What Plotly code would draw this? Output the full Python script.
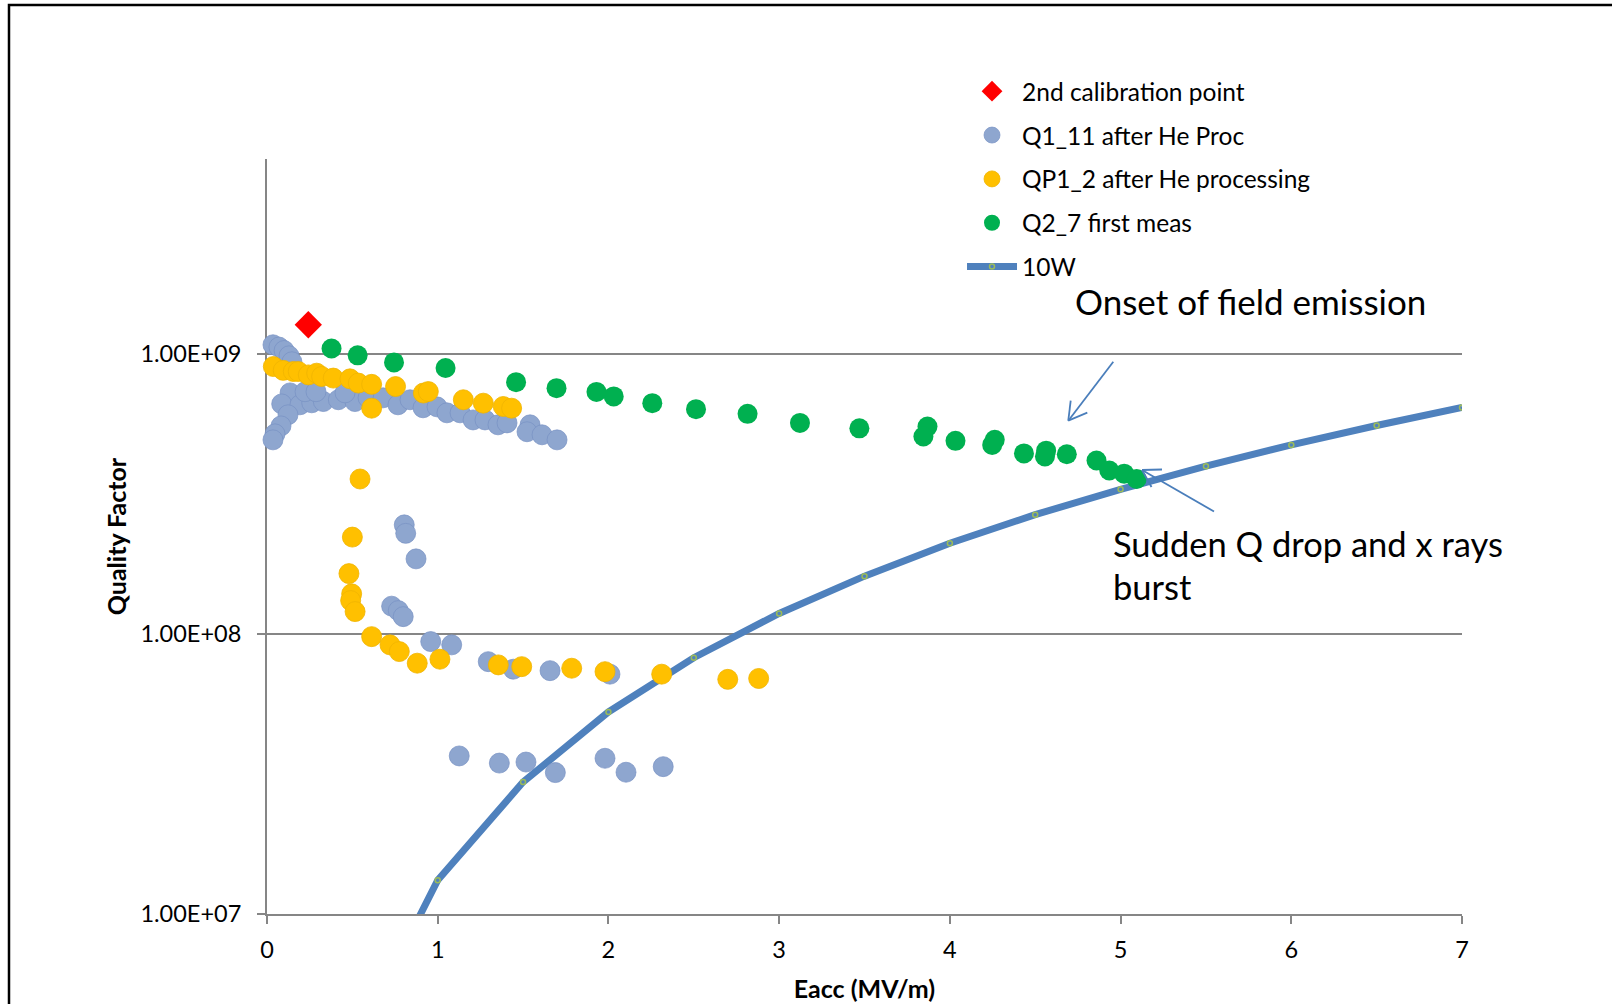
import plotly.graph_objects as go

# ---------------- data ----------------
cal_E = [0.242]
cal_Q = [1.273e9]

q111_E = [0.035, 0.070, 0.100, 0.129, 0.146,
          0.135, 0.086, 0.193, 0.262, 0.330, 0.418, 0.515, 0.592, 0.680, 0.767,
          0.223, 0.287, 0.457,
          0.838, 0.914, 0.996, 1.054, 1.131, 1.207, 1.277, 1.353, 1.406, 1.541,
          1.523, 1.611, 1.699,
          0.123, 0.082, 0.047, 0.035,
          0.804, 0.8125, 0.873, 0.730, 0.769, 0.798, 0.959, 1.082, 1.296, 1.443,
          1.658, 2.009,
          1.126, 1.361, 1.517, 1.689, 1.980, 2.103, 2.321]
q111_Q = [1.08e9, 1.06e9, 1.03e9, 9.86e8, 9.39e8,
          7.27e8, 6.64e8, 6.59e8, 6.70e8, 6.77e8, 6.87e8, 6.77e8, 6.98e8, 6.98e8, 6.59e8,
          7.34e8, 7.34e8, 7.27e8,
          6.87e8, 6.43e8, 6.48e8, 6.17e8, 6.17e8, 5.82e8, 5.82e8, 5.59e8, 5.68e8, 5.59e8,
          5.28e8, 5.15e8, 4.94e8,
          6.07e8, 5.54e8, 5.19e8, 4.94e8,
          2.455e8, 2.29e8, 1.856e8, 1.258e8, 1.213e8, 1.154e8, 9.4e7, 9.15e7, 7.97e7, 7.49e7,
          7.40e7, 7.19e7,
          3.67e7, 3.46e7, 3.49e7, 3.20e7, 3.60e7, 3.21e7, 3.36e7]

qp12_E = [0.037, 0.095, 0.154, 0.183, 0.242, 0.291, 0.320, 0.388, 0.486, 0.535,
          0.613, 0.613, 0.753, 0.916, 0.945, 1.150, 1.267, 1.384, 1.433,
          0.545, 0.500, 0.480, 0.496, 0.490, 0.516, 0.613, 0.7205, 0.775, 0.880,
          1.013, 1.355, 1.492, 1.785, 1.980, 2.312, 2.699, 2.880]
qp12_Q = [9.03e8, 8.75e8, 8.67e8, 8.67e8, 8.43e8, 8.55e8, 8.32e8, 8.21e8, 8.16e8, 7.88e8,
          7.80e8, 6.41e8, 7.66e8, 7.26e8, 7.35e8, 6.87e8, 6.68e8, 6.50e8, 6.41e8,
          3.58e8, 2.22e8, 1.644e8, 1.392e8, 1.317e8, 1.203e8, 9.79e7, 9.15e7, 8.66e7, 7.87e7,
          8.13e7, 7.76e7, 7.65e7, 7.55e7, 7.34e7, 7.19e7, 6.89e7, 6.94e7]

q27_E = [0.378, 0.531, 0.744, 1.046, 1.459, 1.696, 1.930, 2.031, 2.257, 2.513,
         2.815, 3.122, 3.470, 3.869, 3.845, 4.033, 4.263, 4.248, 4.434, 4.564,
         4.557, 4.685, 4.859, 4.934, 5.021, 5.094]
q27_Q = [1.047e9, 9.9e8, 9.34e8, 8.92e8, 7.94e8, 7.56e8, 7.33e8, 7.06e8, 6.68e8, 6.36e8,
         6.12e8, 5.68e8, 5.43e8, 5.51e8, 5.08e8, 4.90e8, 4.94e8, 4.74e8, 4.42e8, 4.52e8,
         4.31e8, 4.39e8, 4.17e8, 3.84e8, 3.74e8, 3.58e8]

w10_E = [0.5, 1, 1.5, 2, 2.5, 3, 3.5, 4, 4.5, 5, 5.5, 6, 6.5, 7]
w10_Q = [3.3e6, 1.32e7, 2.96e7, 5.27e7, 8.23e7, 1.185e8, 1.61e8, 2.11e8, 2.67e8,
         3.29e8, 3.98e8, 4.74e8, 5.56e8, 6.45e8]

y_tickvals = [1e7, 1e8, 1e9]
y_ticktext = ["1.00E+07", "1.00E+08", "1.00E+09"]
x_tickvals = [0, 1, 2, 3, 4, 5, 6, 7]

# ---------------- figure ----------------
fig = go.Figure()

fig.add_trace(go.Scatter(
    x=w10_E, y=w10_Q, name="10W", mode="lines+markers",
    line=dict(color="#4F81BD", width=7),
    marker=dict(symbol="circle-open", size=5, color="#9BBB59", line=dict(width=1.5, color="#9BBB59")),
    legendgroup="g5", legendrank=5))

fig.add_trace(go.Scatter(
    x=cal_E, y=cal_Q, name="2nd calibration point", mode="markers",
    marker=dict(symbol="diamond", size=21, color="#FF0000"),
    cliponaxis=False, legendgroup="g1", legendrank=1))

fig.add_trace(go.Scatter(
    x=q111_E, y=q111_Q, name="Q1_11 after He Proc", mode="markers",
    marker=dict(size=20, color="#8EA6CF", line=dict(width=1, color="rgba(120,145,195,0.7)")),
    cliponaxis=False, legendgroup="g2", legendrank=2))

fig.add_trace(go.Scatter(
    x=qp12_E, y=qp12_Q, name="QP1_2 after He processing", mode="markers",
    marker=dict(size=20, color="#FFC000", line=dict(width=1, color="rgba(240,180,0,0.8)")),
    cliponaxis=False, legendgroup="g3", legendrank=3))

fig.add_trace(go.Scatter(
    x=q27_E, y=q27_Q, name="Q2_7 first meas", mode="markers",
    marker=dict(size=20, color="#00B050"),
    cliponaxis=False, legendgroup="g4", legendrank=4))

axis_gray = "#868686"

fig.update_xaxes(
    range=[0, 7], tickvals=x_tickvals, showgrid=False, zeroline=False,
    showline=True, linecolor=axis_gray, linewidth=2,
    ticks="outside", ticklen=8, tickcolor=axis_gray, tickwidth=1.5,
    tickfont=dict(size=23.5, color="black"), ticklabelstandoff=6,
    title=dict(text="<b>Eacc (MV/m)</b>", font=dict(size=25, color="black"), standoff=18),
    layer="below traces", automargin=False)

fig.update_yaxes(
    type="log", range=[7, 9.697], tickvals=y_tickvals, ticktext=y_ticktext,
    showgrid=True, gridcolor=axis_gray, gridwidth=2, zeroline=False,
    showline=True, linecolor=axis_gray, linewidth=2,
    ticks="outside", ticklen=8, tickcolor=axis_gray, tickwidth=1.5,
    tickfont=dict(size=23.5, color="black"), ticklabelstandoff=11,
    title=dict(text="<b>Quality Factor</b>", font=dict(size=25, color="black"), standoff=7),
    layer="below traces", automargin=False)

annotations = [
    dict(text="Onset of field emission", x=0.8233, y=0.8125, xref="paper", yref="paper",
         xanchor="center", yanchor="middle", showarrow=False, font=dict(size=35, color="black")),
    dict(text="Sudden Q drop and x rays", x=0.7064, y=0.4907, xref="paper", yref="paper",
         xanchor="left", yanchor="middle", showarrow=False, font=dict(size=34.5, color="black")),
    dict(text="burst", x=0.7064, y=0.4333, xref="paper", yref="paper",
         xanchor="left", yanchor="middle", showarrow=False, font=dict(size=34.5, color="black")),
]

# Arrow callouts (decorative), given in pixel positions of the page and converted to paper
PLOT_L, PLOT_W, PLOT_B, PLOT_H = 267, 1195, 914, 755
def px2paper(px, py):
    return (px - PLOT_L) / PLOT_W, (PLOT_B - py) / PLOT_H

arrow_segments = [
    ((1113.3, 361.7), (1068.3, 420.7)),
    ((1068.3, 420.7), (1087.3, 412.7)),
    ((1068.3, 420.7), (1070.7, 400.7)),
    ((1214.0, 511.5), (1142.0, 470.0)),
    ((1142.0, 470.0), (1162.0, 469.5)),
    ((1142.0, 470.0), (1151.5, 487.0)),
]
shapes = []
for (p0, p1) in arrow_segments:
    x0, y0 = px2paper(*p0)
    x1, y1 = px2paper(*p1)
    shapes.append(dict(type="line", xref="paper", yref="paper", x0=x0, y0=y0, x1=x1, y1=y1,
                       line=dict(color="#4A7EBB", width=1.8), layer="above"))

shapes.append(dict(type="rect", xref="paper", yref="paper",
                   x0=-0.2159, x1=1.3, y0=-0.3, y1=1.204,
                   line=dict(color="black", width=2.5), fillcolor="rgba(0,0,0,0)", layer="above"))

fig.update_layout(
    width=1612, height=1004, autosize=False,
    margin=dict(l=PLOT_L, r=1612 - PLOT_L - PLOT_W, t=PLOT_B - PLOT_H, b=1004 - PLOT_B),
    paper_bgcolor="white", plot_bgcolor="white",
    font=dict(family="Lato", color="black"),
    showlegend=True,
    legend=dict(x=0.5816, y=1.1195, xanchor="left", yanchor="top",
                font=dict(size=24.5, color="black"), tracegroupgap=9, itemwidth=50,
                bgcolor="rgba(0,0,0,0)", traceorder="grouped"),
    annotations=annotations,
    shapes=shapes,
)

fig.write_html("out.html")
